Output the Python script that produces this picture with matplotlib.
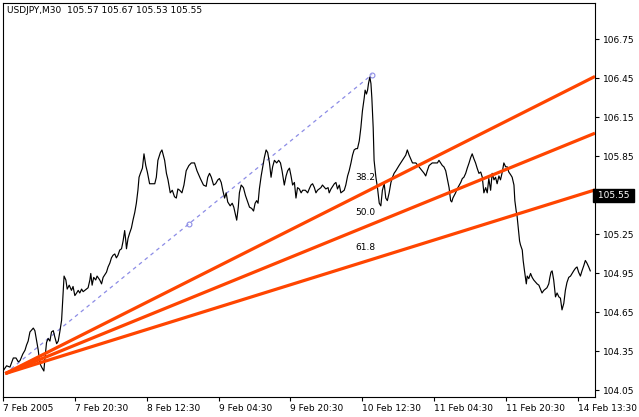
import numpy as np
import matplotlib.pyplot as plt
from matplotlib.transforms import blended_transform_factory

# USDJPY M30 close, bar index / price
bars = [0, 1.6, 3.1, 4.6, 5.8, 6.8, 7.6, 8.8, 9.8, 10.5, 11.2, 12.0, 13.5, 14.2, 15.0, 15.7,
        16.4, 17.2, 18.2, 18.7, 19.4, 20.1, 20.9, 21.6, 22.4, 23.1, 23.9, 24.6, 25.3, 26.1,
        26.8, 27.2, 28.0, 28.6, 29.5, 30.5, 31.2, 32.0, 32.8, 33.5, 34.2, 35.0, 35.7, 37.2,
        37.9, 38.7, 39.1, 39.7, 40.4, 41.3, 41.9, 43.1, 43.9, 44.6, 46.1, 46.8, 47.6, 48.3,
        49.0, 49.8, 50.5, 51.2, 52.0, 52.8, 53.5, 54.2, 54.7, 55.0, 55.7, 56.4, 57.2, 57.9,
        58.7, 59.4, 60.1, 60.6, 61.2, 62.1, 62.8, 63.6, 64.3, 65.3, 66.1, 67.6, 68.3, 69.0,
        70.1, 70.8, 72.0, 72.8, 73.5, 74.5, 75.4, 76.4, 77.2, 77.9, 78.7, 79.7, 80.6, 81.6,
        82.8, 83.9, 85.3, 86.4, 87.9, 89.3, 90.5, 91.2, 92.0, 92.8, 93.8, 94.7, 95.7, 96.4,
        97.2, 97.9, 98.7, 99.4, 100.1, 101.2, 102.1, 102.8, 103.6, 104.1, 104.8, 105.3, 106.1,
        107.1, 108.0, 109.0, 109.8, 110.8, 111.6, 112.3, 113.0, 113.6, 114.2, 115.0, 115.7,
        116.4, 117.2, 117.9, 118.7, 119.4, 120.1, 120.9, 121.9, 122.8, 123.6, 124.3, 125.3,
        126.1, 126.8, 127.6, 128.3, 129.0, 129.8, 130.5, 131.2, 132.0, 132.8, 133.5, 134.7,
        135.7, 136.4, 137.2, 137.9, 138.7, 139.4, 140.1, 141.6, 142.3, 143.8, 144.8, 145.3,
        146.1, 147.6, 148.3, 149.0, 149.8, 150.5, 152.0, 152.7, 153.5, 154.2, 155.0, 155.7,
        156.4, 157.2, 157.9, 158.7, 159.4, 160.1, 160.9, 161.3, 161.9, 162.4, 162.8, 163.4,
        163.9, 164.3, 164.9, 165.3, 166.1, 166.8, 167.6, 168.3, 169.0, 169.8, 170.5, 171.2,
        172.0, 172.8, 173.5, 174.2, 175.0, 176.4, 177.9, 179.4, 180.1, 180.9, 182.4, 183.9,
        185.3, 187.6, 188.3, 189.0, 189.8, 191.2, 192.0, 193.5, 194.2, 195.7, 196.4, 197.2,
        198.7, 199.4, 199.9, 200.4, 201.6, 202.3, 203.9, 204.6, 205.3, 206.1, 206.8, 207.6,
        208.3, 209.0, 209.8, 210.5, 211.2, 212.0, 212.8, 213.5, 214.2, 215.0, 215.7, 216.4,
        217.2, 217.9, 218.7, 219.4, 220.1, 220.9, 221.6, 222.4, 223.1, 223.9, 224.6, 225.3,
        226.1, 226.8, 227.6, 228.0, 228.6, 229.0, 229.5, 230.1, 230.5, 231.3, 231.7, 232.3,
        233.1, 233.5, 234.2, 235.0, 235.7, 236.4, 237.9, 238.7, 239.4, 240.1, 240.9, 241.6,
        242.3, 243.1, 243.6, 244.1, 244.6, 245.3, 246.1, 246.8, 247.6, 248.3, 249.0, 249.8,
        250.5, 251.2, 252.0, 252.8, 253.5, 254.2, 255.0, 255.7, 256.4, 257.2, 257.9, 258.7,
        259.4, 260.1, 260.9, 261.6]
prices = [104.20, 104.24, 104.23, 104.30, 104.30, 104.27, 104.28, 104.33, 104.36, 104.40,
          104.43, 104.50, 104.53, 104.51, 104.43, 104.36, 104.26, 104.23, 104.20, 104.30,
          104.42, 104.45, 104.43, 104.50, 104.51, 104.46, 104.41, 104.43, 104.50, 104.59,
          104.80, 104.93, 104.90, 104.83, 104.86, 104.82, 104.85, 104.78, 104.80, 104.82,
          104.80, 104.83, 104.81, 104.83, 104.84, 104.90, 104.95, 104.86, 104.92, 104.90,
          104.93, 104.90, 104.87, 104.92, 104.96, 105.00, 105.03, 105.07, 105.09, 105.10,
          105.07, 105.09, 105.13, 105.14, 105.20, 105.28, 105.20, 105.14, 105.22, 105.26,
          105.30, 105.36, 105.42, 105.49, 105.59, 105.69, 105.72, 105.76, 105.87, 105.78,
          105.73, 105.64, 105.64, 105.64, 105.69, 105.82, 105.88, 105.90, 105.82, 105.72,
          105.67, 105.57, 105.59, 105.54, 105.53, 105.60, 105.59, 105.57, 105.63, 105.74,
          105.78, 105.80, 105.80, 105.74, 105.68, 105.63, 105.62, 105.69, 105.72, 105.69,
          105.63, 105.64, 105.67, 105.68, 105.65, 105.59, 105.53, 105.57, 105.50, 105.47,
          105.49, 105.46, 105.40, 105.36, 105.46, 105.57, 105.63, 105.61, 105.55, 105.50,
          105.46, 105.45, 105.43, 105.49, 105.51, 105.49, 105.60, 105.70, 105.77, 105.84,
          105.90, 105.88, 105.80, 105.69, 105.77, 105.82, 105.80, 105.82, 105.80, 105.74,
          105.63, 105.70, 105.74, 105.76, 105.70, 105.63, 105.65, 105.53, 105.61, 105.60,
          105.57, 105.59, 105.59, 105.57, 105.60, 105.63, 105.64, 105.61, 105.57, 105.59,
          105.61, 105.63, 105.60, 105.61, 105.57, 105.60, 105.64, 105.65, 105.60, 105.63,
          105.57, 105.59, 105.63, 105.70, 105.74, 105.80, 105.86, 105.90, 105.91, 105.91,
          105.97, 106.07, 106.20, 106.30, 106.36, 106.33, 106.36, 106.41, 106.46, 106.41,
          106.30, 106.07, 105.82, 105.69, 105.61, 105.49, 105.47, 105.59, 105.64, 105.53,
          105.51, 105.57, 105.65, 105.69, 105.72, 105.74, 105.78, 105.82, 105.86, 105.90,
          105.86, 105.80, 105.80, 105.77, 105.72, 105.70, 105.74, 105.78, 105.80, 105.80,
          105.80, 105.82, 105.78, 105.77, 105.74, 105.61, 105.51, 105.50, 105.53, 105.57,
          105.60, 105.65, 105.68, 105.69, 105.72, 105.76, 105.80, 105.84, 105.87, 105.83,
          105.80, 105.76, 105.72, 105.73, 105.69, 105.57, 105.61, 105.57, 105.68, 105.59,
          105.72, 105.67, 105.69, 105.64, 105.70, 105.67, 105.73, 105.80, 105.77, 105.77,
          105.73, 105.71, 105.69, 105.63, 105.51, 105.43, 105.39, 105.30, 105.20, 105.17,
          105.13, 105.05, 104.97, 104.87, 104.93, 104.91, 104.95, 104.92, 104.90, 104.87,
          104.86, 104.83, 104.80, 104.82, 104.83, 104.84, 104.87, 104.92, 104.96, 104.97,
          104.90, 104.77, 104.80, 104.77, 104.76, 104.67, 104.72, 104.82, 104.88, 104.92,
          104.93, 104.95, 104.97, 104.99, 105.00, 104.96, 104.93, 104.97, 105.01, 105.05,
          105.03, 105.00, 104.97]

time_ticks = [0, 32, 64, 96, 128, 160, 192, 224, 256]
time_labels = ['7 Feb 2005', '7 Feb 20:30', '8 Feb 12:30', '9 Feb 04:30', '9 Feb 20:30',
               '10 Feb 12:30', '11 Feb 04:30', '11 Feb 20:30', '14 Feb 13:30']
price_ticks = [104.05, 104.35, 104.65, 104.95, 105.25, 105.55, 105.85, 106.15, 106.45, 106.75]

fan_start = (1.0, 104.18)
fan_end = (164.4, 106.48)
fan_levels = [38.2, 50.0, 61.8]
last_price = 105.55
header = 'USDJPY,M30  105.57 105.67 105.53 105.55'

x_max = 263.7
fan_color = '#ff4500'
trend_color = '#8c8ce6'

fig = plt.figure(figsize=(6.39, 4.17), dpi=100)
ax = fig.add_axes([3 / 639, 20 / 417, 592 / 639, 394 / 417])

ax.plot(bars, prices, color='black', lw=0.85, zorder=3)

# trend line of the fan, dashed
x1, p1 = fan_start
x2, p2 = fan_end
ax.plot([x1, x2], [p1, p2], color=trend_color, lw=0.9, ls=(0, (3, 3)), zorder=2)
ax.plot([x2, (x1 + x2) / 2], [p2, (p1 + p2) / 2], ls='none', marker='o', ms=3.5,
        mfc='none', mec=trend_color, mew=0.8, zorder=2)

# fibonacci fan rays
for level in fan_levels:
    p_level = p2 - (p2 - p1) * level / 100
    slope = (p_level - p1) / (x2 - x1)
    ax.plot([x1, x_max], [p1, p1 + slope * (x_max - x1)], color=fan_color, lw=2.3,
            solid_capstyle='butt', zorder=4)
    ax.annotate('%.1f' % level, xy=(x2, p_level), xytext=(3, 7), textcoords='offset pixels',
                ha='right', va='bottom', fontsize=6.5, color='black', zorder=5)

ax.set_xlim(0, x_max)
ax.set_ylim(104.0, 107.03)

# the last price gets its own black tag instead of a plain tick label
ax.yaxis.tick_right()
ax.set_yticks(price_ticks)
ax.set_yticklabels(['' if p == last_price else '%.2f' % p for p in price_ticks])
ax.set_xticks(time_ticks)
ax.set_xticklabels(time_labels)
for lab in ax.get_xticklabels():
    lab.set_horizontalalignment('left')
ax.tick_params(axis='both', direction='out', length=3, width=0.8, labelsize=6.5,
               colors='black')
ax.tick_params(axis='y', pad=3)
ax.tick_params(axis='x', pad=2)
for spine in ax.spines.values():
    spine.set_linewidth(0.8)
    spine.set_color('black')

ax.text(0.007, 0.992, header, transform=ax.transAxes, ha='left', va='top', fontsize=6.5)

trans = blended_transform_factory(ax.transAxes, ax.transData)
ax.text(1.0, last_price, ' %.2f ' % last_price, transform=trans, ha='left', va='center',
        fontsize=6.5, color='white', zorder=6, clip_on=False,
        bbox=dict(boxstyle='square,pad=0.2', fc='black', ec='black'))

fig.savefig('out.png', dpi=100)
